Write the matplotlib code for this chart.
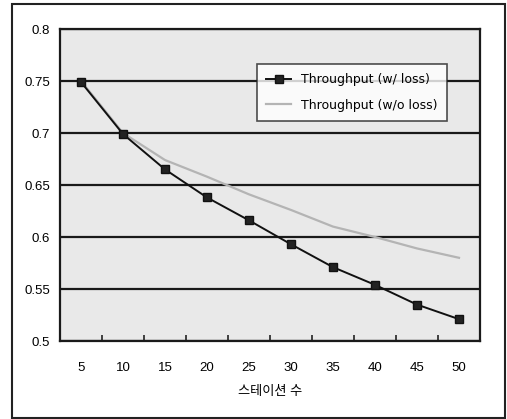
import matplotlib.pyplot as plt
from matplotlib.patches import Rectangle

plt.rcParams['font.family'] = ['Liberation Sans', 'Noto Sans CJK KR', 'DejaVu Sans']

# 스테이션 수 (category axis)
stations = [5, 10, 15, 20, 25, 30, 35, 40, 45, 50]
thr_loss = [0.749, 0.699, 0.665, 0.638, 0.616, 0.593, 0.571, 0.554, 0.535, 0.521]
thr_noloss = [0.750, 0.700, 0.674, 0.658, 0.641, 0.626, 0.610, 0.600, 0.589, 0.580]
yticks = [0.5, 0.55, 0.6, 0.65, 0.7, 0.75, 0.8]
ytick_labels = ['0.5', '0.55', '0.6', '0.65', '0.7', '0.75', '0.8']

W, H = 507, 419
fig = plt.figure(figsize=(W / 100, H / 100), dpi=100)
ax = fig.add_axes([60 / W, 1 - 341 / H, 420 / W, 312 / H])
ax.set_facecolor('#e9e9e9')

# outer frame around whole chart
fig.patches.append(Rectangle((12 / W, 1 - 418 / H), 493 / W, 414 / H,
                             transform=fig.transFigure, fill=False,
                             edgecolor='#222222', lw=1.5))

pos = list(range(len(stations)))
ax.plot(pos, thr_noloss, color='#b4b4b4', lw=1.6, label='Throughput (w/o loss)', zorder=3)
ax.plot(pos, thr_loss, color='#111111', lw=1.4, marker='s', ms=6,
        mfc='#222222', mec='#111111', label='Throughput (w/ loss)', zorder=4)

ax.set_xlim(-0.5, len(stations) - 0.5)
ax.set_ylim(0.5, 0.8)
ax.set_yticks(yticks)
ax.set_yticklabels(ytick_labels)
ax.set_xticks(pos)
ax.set_xticklabels([str(s) for s in stations])
ax.set_xticks([p + 0.5 for p in pos[:-1]], minor=True)
ax.tick_params(axis='x', which='major', length=0, pad=15, labelsize=9.5)
ax.tick_params(axis='x', which='minor', direction='in', length=4, width=1.2, color='#222222')
ax.tick_params(axis='y', length=0, pad=7, labelsize=9.5)
ax.yaxis.grid(True, color='#1a1a1a', lw=1.6)
ax.set_axisbelow(True)
for sp in ax.spines.values():
    sp.set_color('#1a1a1a')
    sp.set_linewidth(1.6)

ax.set_xlabel('스테이션 수', fontsize=9.5, labelpad=9)

handles, labels = ax.get_legend_handles_labels()
leg = ax.legend(handles[::-1], labels[::-1], loc='upper left',
                bbox_to_anchor=((257 - 60) / 420, 1 - (64 - 29) / 312),
                prop={'family': 'DejaVu Sans', 'size': 9},
                frameon=True, fancybox=False, handlelength=2.0,
                borderpad=0.75, labelspacing=1.0, borderaxespad=0)
leg.get_frame().set_edgecolor('#222222')
leg.get_frame().set_linewidth(1.2)
leg.get_frame().set_facecolor('white')

fig.savefig('out.png', dpi=100)
